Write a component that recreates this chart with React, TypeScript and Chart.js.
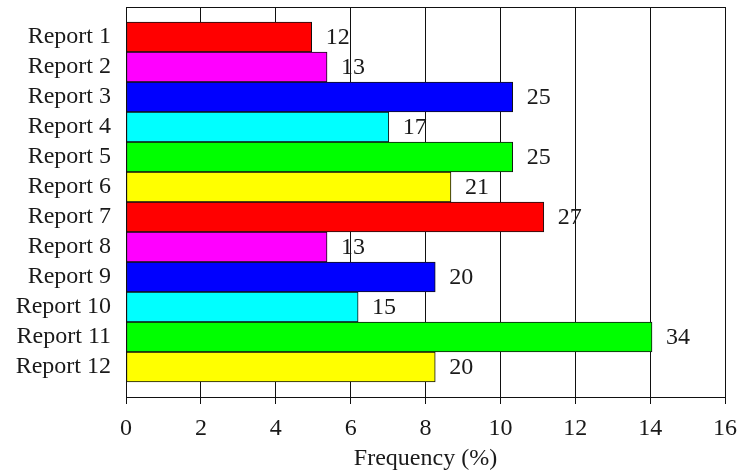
import React, { useEffect, useRef } from "react";
import { Chart, registerables } from "chart.js";

Chart.register(...registerables);

const categories = [
  "Report 1", "Report 2", "Report 3", "Report 4", "Report 5", "Report 6",
  "Report 7", "Report 8", "Report 9", "Report 10", "Report 11", "Report 12",
];
const frequencies = [4.96, 5.37, 10.33, 7.02, 10.33, 8.68, 11.16, 5.37, 8.26, 6.2, 14.05, 8.26];
const counts = [12, 13, 25, 17, 25, 21, 27, 13, 20, 15, 34, 20];
const barColors = [
  "#FF0000", "#FF00FF", "#0000FF", "#00FFFF", "#00FF00", "#FFFF00",
  "#FF0000", "#FF00FF", "#0000FF", "#00FFFF", "#00FF00", "#FFFF00",
];
const xTicks = [0, 2, 4, 6, 8, 10, 12, 14, 16];

const FONT = "'Liberation Serif', 'Times New Roman', serif";

const valueLabels = {
  id: "valueLabels",
  afterDatasetsDraw(chart: any) {
    const ctx = chart.ctx;
    const meta = chart.getDatasetMeta(0);
    ctx.save();
    ctx.font = `24px ${FONT}`;
    ctx.fillStyle = "#1a1a1a";
    ctx.textAlign = "left";
    ctx.textBaseline = "middle";
    meta.data.forEach((bar: any, i: number) => {
      ctx.fillText(String(counts[i]), bar.x + 14, bar.y + 1);
    });
    ctx.restore();
  },
};

export default function App() {
  const ref = useRef<HTMLCanvasElement | null>(null);
  useEffect(() => {
    if (!ref.current) return;
    const chart = new Chart(ref.current, {
      type: "bar",
      data: {
        datasets: [
          {
            data: frequencies.map((v, i) => ({ x: v, y: i })),
            backgroundColor: barColors,
            borderColor: "#111",
            borderWidth: 1,
            borderSkipped: false,
            barPercentage: 1,
            categoryPercentage: 1,
          },
        ],
      },
      plugins: [valueLabels],
      options: {
        indexAxis: "y",
        responsive: false,
        animation: false,
        layout: { padding: { top: 7, right: 14, left: 0, bottom: 2 } },
        plugins: { legend: { display: false }, tooltip: { enabled: false } },
        scales: {
          x: {
            type: "linear",
            min: 0,
            max: 16,
            afterBuildTicks: (s: any) => {
              s.ticks = xTicks.map((v) => ({ value: v }));
            },
            afterFit: (s: any) => {
              s.height = 76;
              s.paddingLeft = 0;
              s.paddingRight = 0;
            },
            grid: { color: "#111", lineWidth: 1, tickLength: 7, drawTicks: true },
            border: { color: "#111", width: 1 },
            ticks: { color: "#1a1a1a", font: { family: FONT, size: 24 }, padding: 10, maxRotation: 0 },
            title: {
              display: true,
              text: "Frequency (%)",
              color: "#1a1a1a",
              font: { family: FONT, size: 24 },
              padding: { top: 0, bottom: 0 },
            },
          },
          y: {
            type: "linear",
            min: -1,
            max: 12,
            reverse: true,
            offset: false,
            afterBuildTicks: (s: any) => {
              const t = [];
              for (let v = -1; v <= 12; v++) t.push({ value: v });
              s.ticks = t;
            },
            afterFit: (s: any) => {
              s.width = 126;
              s.paddingTop = 0;
              s.paddingBottom = 0;
            },
            grid: {
              offset: false,
              drawTicks: false,
              color: (c: any) => (c.tick && c.tick.value === -1 ? "#111" : "rgba(0,0,0,0)"),
              lineWidth: 1,
            },
            border: { color: "#111", width: 1 },
            ticks: {
              color: "#1a1a1a",
              font: { family: FONT, size: 24 },
              padding: 15,
              autoSkip: false,
              callback: (v: any) => (v >= 0 && v < categories.length ? categories[v] : ""),
            },
          },
        },
      },
    } as any);
    return () => chart.destroy();
  }, []);
  return (
    <div style={{ position: "fixed", left: 0, top: 0, width: 739, height: 475, background: "#fff" }}>
      <canvas ref={ref} width={739} height={475} />
    </div>
  );
}
